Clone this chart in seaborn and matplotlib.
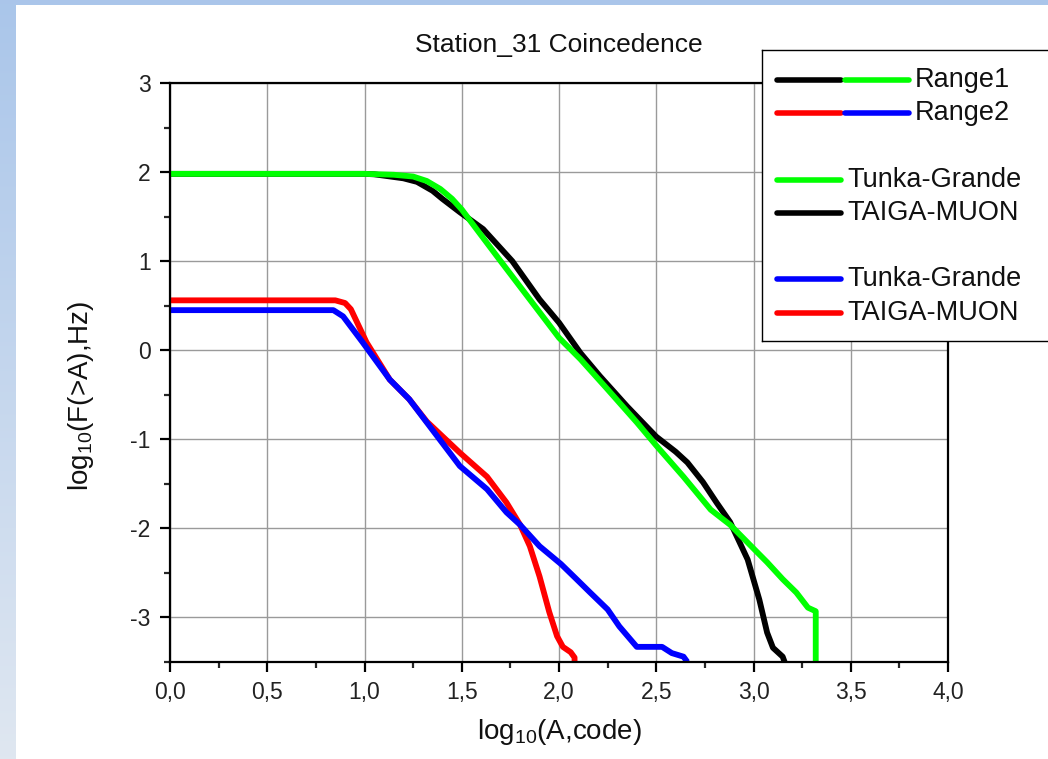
import numpy as np
import pandas as pd
import matplotlib
matplotlib.use("Agg")
import matplotlib.pyplot as plt
from matplotlib.patches import Rectangle
from matplotlib.ticker import MultipleLocator, FuncFormatter
import seaborn as sns

sns.set_theme(style="white")
plt.rcParams["font.family"] = ["Liberation Sans", "DejaVu Sans"]
plt.rcParams["mathtext.default"] = "regular"

# Range1 (upper pair of curves)
range1_tg_x = [0.0, 1.0, 1.15, 1.25, 1.32, 1.39, 1.45, 1.50, 1.60, 1.70, 1.85, 2.00, 2.11,
               2.25, 2.40, 2.50, 2.64, 2.78, 2.88, 3.02, 3.07, 3.15, 3.22, 3.28, 3.32, 3.32]
range1_tg_y = [1.98, 1.98, 1.97, 1.95, 1.90, 1.81, 1.70, 1.58, 1.29, 1.00, 0.57, 0.14, -0.10,
               -0.44, -0.81, -1.07, -1.42, -1.79, -1.96, -2.27, -2.38, -2.57, -2.72, -2.89, -2.93, -3.5]

range1_tm_x = [0.0, 1.0, 1.05, 1.10, 1.20, 1.27, 1.35, 1.40, 1.49, 1.61, 1.76, 1.90, 2.00, 2.11,
               2.21, 2.35, 2.50, 2.60, 2.66, 2.74, 2.81, 2.88, 2.97, 3.03, 3.07, 3.10, 3.15, 3.16]
range1_tm_y = [1.98, 1.98, 1.975, 1.96, 1.93, 1.89, 1.79, 1.70, 1.55, 1.36, 1.00, 0.57, 0.31, -0.03,
               -0.29, -0.63, -0.97, -1.14, -1.26, -1.48, -1.71, -1.93, -2.35, -2.80, -3.17, -3.34, -3.44, -3.5]

# Range2 (lower pair of curves)
range2_tm_x = [0.0, 0.85, 0.90, 0.93, 1.01, 1.13, 1.23, 1.32, 1.49, 1.63, 1.73, 1.80,
               1.85, 1.90, 1.95, 1.99, 2.02, 2.06, 2.08, 2.08]
range2_tm_y = [0.56, 0.56, 0.53, 0.46, 0.09, -0.33, -0.55, -0.80, -1.15, -1.42, -1.71, -1.96,
               -2.20, -2.54, -2.94, -3.21, -3.33, -3.39, -3.45, -3.5]

range2_tg_x = [0.0, 0.84, 0.89, 0.99, 1.13, 1.23, 1.32, 1.49, 1.63, 1.73, 1.80, 1.90,
               2.01, 2.09, 2.16, 2.25, 2.31, 2.40, 2.53, 2.58, 2.64, 2.66]
range2_tg_y = [0.45, 0.45, 0.38, 0.09, -0.33, -0.55, -0.81, -1.30, -1.56, -1.82, -1.96, -2.20,
               -2.40, -2.57, -2.72, -2.91, -3.10, -3.33, -3.33, -3.40, -3.44, -3.5]

x_ticks = [0.0, 0.5, 1.0, 1.5, 2.0, 2.5, 3.0, 3.5, 4.0]
y_ticks = [-3, -2, -1, 0, 1, 2, 3]

W, H = 1048, 759
fig = plt.figure(figsize=(W / 100, H / 100), dpi=100)

# slide background: light blue gradient with white panel
bg = fig.add_axes([0, 0, 1, 1], zorder=-10)
top_c = np.array([0.667, 0.776, 0.918])
bot_c = np.array([0.875, 0.906, 0.945])
t = np.linspace(0, 1, 256)[:, None, None]
grad = top_c * (1 - t) + bot_c * t
bg.imshow(np.repeat(grad, 2, axis=1), aspect="auto", extent=[0, 1, 0, 1])
bg.axis("off")
fig.patches.append(Rectangle((16 / W, 0), 1, 1 - 5 / H, transform=fig.transFigure,
                             facecolor="white", edgecolor="none", zorder=-5))

ax = fig.add_axes([170 / W, 1 - 662 / H, (948 - 170) / W, (662 - 83) / H])
ax.set_facecolor("white")

series = [
    (range1_tm_x, range1_tm_y, "black"),
    (range1_tg_x, range1_tg_y, "#00ff00"),
    (range2_tm_x, range2_tm_y, "#ff0000"),
    (range2_tg_x, range2_tg_y, "#0000ff"),
]
for xs, ys, col in series:
    df = pd.DataFrame({"x": xs, "y": ys})
    sns.lineplot(data=df, x="x", y="y", sort=False, estimator=None,
                 color=col, linewidth=4.2, ax=ax,
                 solid_joinstyle="round", solid_capstyle="butt")

ax.set_xlim(0, 4)
ax.set_ylim(-3.5, 3)
ax.set_xticks(x_ticks)
ax.set_yticks(y_ticks)
ax.xaxis.set_minor_locator(MultipleLocator(0.25))
ax.yaxis.set_minor_locator(MultipleLocator(0.5))
ax.xaxis.set_major_formatter(FuncFormatter(lambda v, p: f"{v:.1f}".replace(".", ",")))
ax.yaxis.set_major_formatter(FuncFormatter(lambda v, p: f"{v:.0f}"))
ax.grid(True, which="major", color="#9a9a9a", linewidth=1.0)
ax.tick_params(which="major", direction="out", length=7, width=1.6,
               labelsize=16.5, colors="black", labelcolor="#222222", pad=7,
               bottom=True, left=True, top=False, right=False)
ax.tick_params(which="minor", direction="out", length=4, width=1.6,
               bottom=True, left=True, top=False, right=False)
for s in ax.spines.values():
    s.set_color("black")
    s.set_linewidth(1.6)

ax.set_title("Station_31 Coincedence", fontsize=19, pad=22, color="#111111")
ax.set_xlabel(r"log$_{10}$(A,code)", fontsize=20, labelpad=9, color="#111111")
ax.set_ylabel(r"log$_{10}$(F(>A),Hz)", fontsize=20, color="#111111")
ax.yaxis.set_label_coords(-0.095, 0.46)

# legend box, drawn in pixel-like coordinates of its own
lg = fig.add_axes([762 / W, 1 - 341 / H, (1070 - 762) / W, (341 - 50) / H], zorder=5)
lg.set_xlim(762, 1070)
lg.set_ylim(341, 50)
lg.set_facecolor("white")
lg.set_xticks([])
lg.set_yticks([])
for s in lg.spines.values():
    s.set_color("black")
    s.set_linewidth(1.0)

leg_rows = [
    (80, ["black", "#00ff00"], "Range1"),
    (113, ["#ff0000", "#0000ff"], "Range2"),
    (180, ["#00ff00"], "Tunka-Grande"),
    (213, ["black"], "TAIGA-MUON"),
    (279, ["#0000ff"], "Tunka-Grande"),
    (313, ["#ff0000"], "TAIGA-MUON"),
]
for yy, cols, label in leg_rows:
    x0 = 777
    for c in cols:
        lg.plot([x0, x0 + 64], [yy, yy], color=c, linewidth=4.0, solid_capstyle="round")
        x0 += 68
    lg.text(x0 + 2, yy, label, fontsize=19.5, va="center", ha="left", color="#111111")

fig.savefig("out.png", dpi=100)
